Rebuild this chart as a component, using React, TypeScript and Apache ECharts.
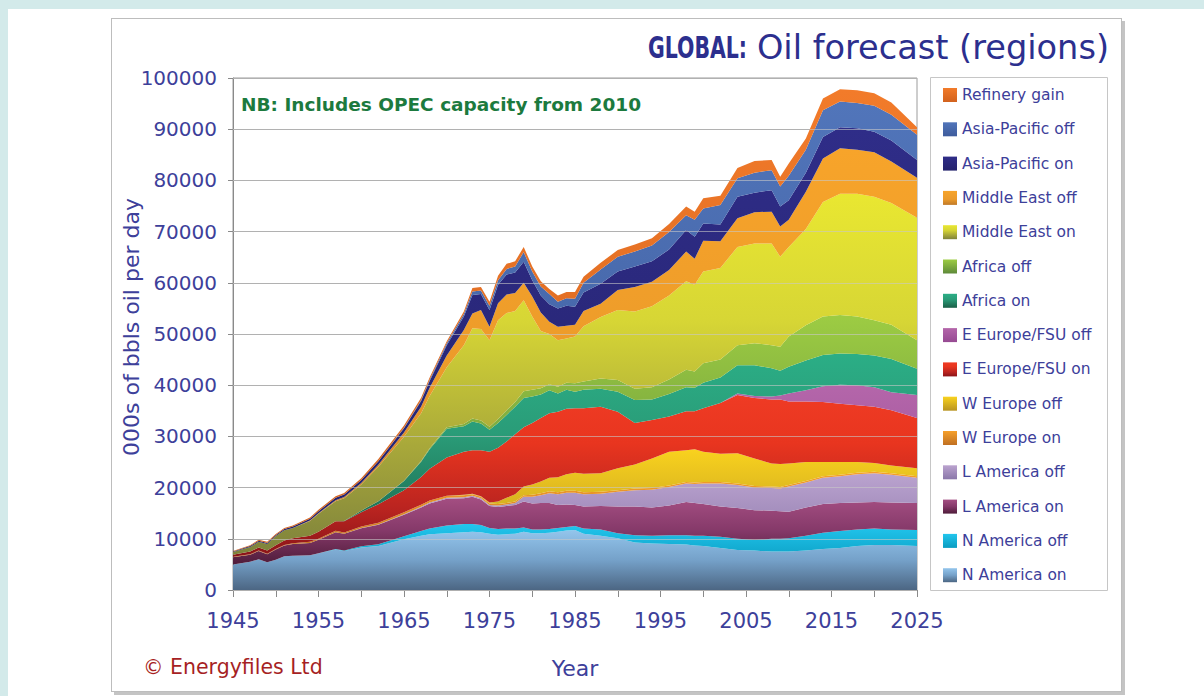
import React, { useEffect, useRef } from "react";
import * as echarts from "echarts";

// Years sampled from the chart (x values)
const years = [
  1945, 1947, 1948, 1949, 1950, 1951, 1952, 1954, 1955, 1957, 1958,
  1960, 1962, 1965, 1967, 1968, 1970, 1972, 1973, 1974, 1975,
  1976, 1977, 1978, 1979, 1980, 1981, 1982, 1983, 1984, 1985,
  1986, 1988, 1990, 1992, 1994, 1996, 1998, 1999, 2000, 2002,
  2004, 2006, 2008, 2009, 2010, 2012, 2014, 2016, 2018, 2020, 2022, 2025,
];

// Series values, 000s of bbls oil per day
const nAmericaOn = [
  5000, 5500, 6000, 5400, 5900, 6600, 6700, 6800, 7200, 7900, 7600,
  8300, 8600, 9900, 10600, 10900, 11100, 11300, 11400, 11300, 11000,
  10800, 10900, 11000, 11400, 11100, 11100, 11200, 11400, 11600, 11700,
  11000, 10600, 10100, 9300, 9100, 9000, 8900, 8700, 8600, 8200,
  7800, 7700, 7500, 7500, 7500, 7700, 8000, 8200, 8600, 8800, 8800, 8600,
];
const nAmericaOff = [
  0, 0, 0, 0, 0, 0, 0, 0, 0, 100, 100,
  250, 350, 600, 900, 1100, 1500, 1600, 1500, 1400, 1100,
  1100, 1100, 1000, 800, 700, 700, 700, 700, 700, 800,
  1000, 1200, 1000, 1400, 1500, 1700, 1800, 1900, 2000, 2200,
  2200, 2100, 2500, 2500, 2600, 2900, 3200, 3300, 3200, 3200, 3000, 3100,
];
const lAmericaOn = [
  1400, 1400, 1600, 1600, 2000, 2100, 2300, 2400, 2600, 3300, 3300,
  3500, 3800, 4200, 4600, 4900, 5200, 5000, 5300, 5000, 4300,
  4300, 4400, 4600, 5100, 5100, 5200, 5100, 4500, 4400, 4100,
  4300, 4600, 5200, 5600, 5500, 5800, 6500, 6400, 6200, 5900,
  6000, 5800, 5500, 5400, 5200, 5500, 5600, 5500, 5300, 5200, 5300, 5300,
];
const lAmericaOff = [
  0, 0, 0, 0, 0, 0, 0, 0, 0, 0, 0,
  50, 50, 100, 150, 200, 200, 200, 200, 200, 200,
  300, 300, 400, 900, 1300, 1500, 1900, 2100, 2300, 2400,
  2400, 2400, 2900, 3200, 3500, 3600, 3600, 3700, 4000, 4500,
  4500, 4400, 4400, 4400, 4900, 4900, 5100, 5200, 5500, 5600, 5400, 4900,
];
const wEuropeOn = [
  100, 100, 100, 100, 100, 100, 150, 200, 200, 250, 250,
  300, 350, 400, 400, 400, 400, 400, 300, 300, 300,
  300, 300, 300, 300, 400, 400, 400, 400, 400, 400,
  400, 400, 300, 300, 300, 300, 300, 300, 300, 300,
  300, 300, 300, 300, 300, 300, 300, 300, 300, 300, 300, 300,
];
const wEuropeOff = [
  0, 0, 0, 0, 0, 0, 0, 0, 0, 0, 0,
  0, 0, 0, 0, 0, 0, 100, 100, 100, 200,
  500, 1000, 1400, 1700, 2000, 2300, 2600, 2900, 3200, 3500,
  3600, 3600, 4300, 4700, 5800, 6600, 6200, 6500, 5900, 5500,
  5900, 5400, 4500, 4500, 4200, 3700, 2800, 2500, 2100, 1700, 1500, 1600,
];
const eEuropeOn = [
  400, 500, 600, 600, 750, 850, 950, 1200, 1400, 1900, 2200,
  2800, 3600, 4300, 5400, 6200, 7500, 8400, 8500, 9000, 9900,
  10500, 11000, 11700, 11600, 12000, 12400, 12600, 12800, 12800, 12600,
  12800, 13000, 11000, 8100, 7500, 6900, 7600, 7400, 8500, 9900,
  11400, 11800, 12500, 12600, 12100, 11800, 11700, 11400, 11100, 11000, 10800, 9800,
];
const eEuropeOff = [
  0, 0, 0, 0, 0, 0, 0, 0, 0, 0, 0,
  0, 0, 0, 0, 0, 0, 0, 0, 0, 0,
  0, 0, 0, 0, 0, 0, 0, 0, 0, 0,
  0, 0, 0, 0, 0, 0, 0, 0, 0, 0,
  300, 400, 600, 800, 1600, 2200, 3100, 3700, 3900, 3800, 3500, 4500,
];
const africaOn = [
  0, 0, 0, 0, 0, 0, 0, 0, 0, 0, 50,
  300, 600, 1800, 3000, 3800, 5600, 5000, 5600, 5200, 4300,
  4800, 5200, 5400, 5700, 5200, 4600, 4500, 3600, 3700, 3200,
  3600, 3500, 3900, 4500, 4000, 4400, 4700, 4600, 5000, 5000,
  5500, 6000, 5500, 4800, 5200, 5800, 6100, 6100, 6100, 6200, 6500, 5100,
];
const africaOff = [
  0, 0, 0, 0, 0, 0, 0, 0, 0, 0, 0,
  0, 0, 50, 150, 200, 300, 400, 600, 600, 600,
  800, 900, 900, 1300, 1300, 1200, 1200, 1300, 1400, 1700,
  1600, 2000, 2300, 2200, 2400, 2800, 3400, 3200, 3800, 3500,
  3900, 4300, 4500, 4700, 5900, 6900, 7500, 7500, 7300, 6900, 6700, 5600,
];
const middleEastOn = [
  500, 900, 1100, 1300, 1800, 2000, 2000, 2900, 3500, 3900, 4400,
  5100, 6700, 8600, 9300, 10200, 11700, 15400, 17600, 17900, 16900,
  19300, 19000, 17800, 17800, 14300, 11200, 9800, 9100, 8600, 9100,
  10800, 12000, 13700, 15100, 15800, 16400, 17300, 16900, 17900, 17900,
  19200, 19500, 19900, 17600, 17500, 18800, 22400, 23700, 24000, 24100, 23800, 23900,
];
const middleEastOff = [
  0, 0, 0, 0, 0, 0, 0, 50, 100, 200, 250,
  300, 400, 800, 1300, 1600, 2300, 3000, 2900, 3700, 2600,
  3300, 3600, 3500, 3400, 3900, 3600, 2400, 2600, 2500, 2300,
  3000, 2600, 3900, 4800, 4800, 5000, 5800, 5100, 6000, 5200,
  5600, 6100, 6200, 5900, 5300, 7300, 8500, 8900, 8600, 8700, 8100, 7800,
];
const asiaPacificOn = [
  100, 200, 200, 200, 200, 250, 300, 350, 400, 450, 500,
  600, 700, 850, 1100, 1300, 2000, 2600, 3600, 3100, 3300,
  3600, 3900, 4000, 4100, 3200, 3300, 3400, 3600, 3900, 3500,
  3600, 3900, 3600, 4000, 4000, 4000, 4200, 4300, 3400, 3300,
  4200, 3800, 4200, 3900, 3800, 3700, 4200, 4100, 4200, 4000, 4100, 3500,
];
const asiaPacificOff = [
  0, 0, 0, 0, 0, 0, 0, 0, 0, 0, 0,
  0, 20, 100, 150, 250, 400, 500, 700, 700, 800,
  900, 1100, 1200, 1900, 1700, 1800, 2000, 1300, 1500, 1600,
  1900, 2800, 2900, 2900, 3100, 3400, 2900, 3300, 2900, 3800,
  3600, 3900, 3900, 3900, 4800, 4500, 5200, 5000, 4900, 5100, 5000, 4900,
];
const refineryGain = [
  100, 150, 200, 200, 200, 200, 200, 250, 250, 300, 300,
  350, 400, 450, 500, 450, 400, 500, 700, 700, 800,
  900, 1000, 1000, 1000, 1000, 1000, 1000, 1200, 1200, 1300,
  1200, 1300, 1300, 1400, 1400, 1600, 1700, 1600, 2000, 1800,
  2000, 2300, 2000, 1900, 2400, 2200, 2300, 2400, 2500, 2400, 2400, 1500,
];

const seriesNames = [
  "N America on", "N America off", "L America on", "L America off",
  "W Europe on", "W Europe off", "E Europe/FSU on", "E Europe/FSU off",
  "Africa on", "Africa off", "Middle East on", "Middle East off",
  "Asia-Pacific on", "Asia-Pacific off", "Refinery gain",
];
const seriesValues = [
  nAmericaOn, nAmericaOff, lAmericaOn, lAmericaOff, wEuropeOn, wEuropeOff,
  eEuropeOn, eEuropeOff, africaOn, africaOff, middleEastOn, middleEastOff,
  asiaPacificOn, asiaPacificOff, refineryGain,
];
// gradient stops top -> bottom
const seriesStops: [number, string][][] = [
  [[0, "#93c5ec"], [0.5, "#75a1c9"], [1, "#4c6683"]],
  [[0, "#22c6ee"], [1, "#0a9cc0"]],
  [[0, "#a54f83"], [0.5, "#853969"], [1, "#4f1c3a"]],
  [[0, "#bba3cf"], [1, "#8a77a9"]],
  [[0, "#f6a02a"], [1, "#c07022"]],
  [[0, "#f9d21e"], [1, "#b89422"]],
  [[0, "#ef3b24"], [0.3, "#e8351f"], [0.7, "#ba2420"], [1, "#8a1418"]],
  [[0, "#b466aa"], [1, "#964a92"]],
  [[0, "#2bae86"], [0.4, "#2a9c78"], [1, "#1a5e46"]],
  [[0, "#9dcc43"], [1, "#5e8a3a"]],
  [[0, "#e9e731"], [0.35, "#d7d635"], [0.7, "#a8a83a"], [1, "#7e823c"]],
  [[0, "#f7a42a"], [0.6, "#eb9a2a"], [1, "#c07a28"]],
  [[0, "#2f2d88"], [1, "#24226c"]],
  [[0, "#5175ba"], [1, "#3e5c9c"]],
  [[0, "#f27b2a"], [1, "#d2621e"]],
];

const BLUE = "#3d409a";
const FONT = "DejaVu Sans";

export default function App() {
  const ref = useRef<HTMLDivElement>(null);

  useEffect(() => {
    if (!ref.current) return;
    const chart = echarts.init(ref.current, undefined, { renderer: "svg" });

    const series = seriesNames.map((name, i) => {
      const grad = new echarts.graphic.LinearGradient(
        0, 0, 0, 1,
        seriesStops[i].map(([offset, color]) => ({ offset, color }))
      );
      return {
        name,
        type: "line",
        stack: "total",
        symbol: "none",
        showSymbol: false,
        smooth: false,
        lineStyle: { width: 0 },
        itemStyle: { color: grad },
        areaStyle: { color: grad, opacity: 1 },
        emphasis: { disabled: true },
        // value first so that the y dimension is the stacked one
        encode: { x: 1, y: 0 },
        data: years.map((y, j) => [seriesValues[i][j], y]),
      };
    });

    chart.setOption({
      animation: false,
      grid: {
        left: 233, right: 287, top: 78, bottom: 106,
        show: true, borderColor: "#9c9c9c", borderWidth: 1,
        backgroundColor: "rgba(0,0,0,0)",
      },
      legend: {
        orient: "vertical",
        left: 943,
        top: 87,
        padding: 0,
        itemWidth: 14,
        itemHeight: 14,
        itemGap: 18.3,
        icon: "rect",
        selectedMode: false,
        data: seriesNames.slice().reverse(),
        textStyle: { color: BLUE, fontSize: 15.5, fontFamily: FONT, lineHeight: 14 },
      },
      xAxis: {
        type: "value",
        min: 1945,
        max: 2025,
        interval: 5,
        axisLine: { lineStyle: { color: "#8a8a8a" } },
        axisTick: { length: 7, lineStyle: { color: "#8a8a8a" } },
        splitLine: { show: false },
        axisLabel: {
          formatter: (v: number) => ((v - 1945) % 10 === 0 ? String(v) : ""),
          color: BLUE, fontSize: 21, fontFamily: FONT, margin: 20,
          showMinLabel: true, showMaxLabel: true,
        },
        name: "Year",
        nameLocation: "middle",
        nameGap: 67,
        nameTextStyle: { color: BLUE, fontSize: 22, fontFamily: FONT },
      },
      yAxis: [
        {
          type: "value",
          min: 0,
          max: 100000,
          interval: 10000,
          axisLine: { show: true, lineStyle: { color: "#8a8a8a" } },
          axisTick: { show: true, length: 5, lineStyle: { color: "#8a8a8a" } },
          splitLine: { show: true, lineStyle: { color: "#8e8e8e", width: 1 } },
          axisLabel: {
            formatter: (v: number) => String(v),
            color: BLUE, fontSize: 20, fontFamily: FONT, margin: 16,
          },
        },
        {
          // faint gridlines showing through the areas, as in the original
          type: "value",
          position: "left",
          min: 0,
          max: 100000,
          interval: 10000,
          z: 10,
          axisLine: { show: false },
          axisTick: { show: false },
          axisLabel: { show: false },
          splitLine: { show: true, lineStyle: { color: "rgba(200,200,200,0.6)", width: 1 } },
        },
      ],
      graphic: [
        {
          type: "rect",
          z: 0,
          shape: { x: 930.5, y: 77.5, width: 177, height: 513 },
          style: { fill: "#ffffff", stroke: "#c6c6c6", lineWidth: 1 },
        },
        {
          type: "text",
          x: 747,
          y: 47,
          scaleX: 0.66,
          style: {
            text: "GLOBAL:",
            align: "right",
            verticalAlign: "middle",
            fontFamily: FONT, fontWeight: "bold", fontSize: 31, fill: "#2c2f8e",
          },
        },
        {
          type: "text",
          x: 1109,
          y: 47,
          style: {
            text: "Oil forecast (regions)",
            align: "right",
            verticalAlign: "middle",
            fontFamily: FONT, fontSize: 33.6, fill: "#2c2f8e",
          },
        },
        {
          type: "text",
          x: 131,
          y: 327,
          rotation: Math.PI / 2,
          style: {
            text: "000s of bbls oil per day",
            align: "center",
            verticalAlign: "middle",
            fontFamily: FONT, fontSize: 22, fill: BLUE,
          },
        },
        {
          type: "text",
          x: 241,
          y: 104,
          style: {
            text: "NB: Includes OPEC capacity from 2010",
            fontFamily: FONT, fontWeight: "bold", fontSize: 18.5,
            fill: "#1c7a3e", verticalAlign: "middle",
          },
        },
        {
          type: "text",
          x: 143,
          y: 667,
          style: {
            text: "© Energyfiles Ltd",
            fontFamily: FONT, fontSize: 20.5, fill: "#a61f24", verticalAlign: "middle",
          },
        },
      ],
      series,
    });

    return () => chart.dispose();
  }, []);

  return (
    <div style={{ position: "absolute", left: 0, top: 0, width: 1204, height: 696, background: "#d3eaea", overflow: "hidden" }}>
      <div style={{ position: "absolute", left: 8, top: 9, width: 1196, height: 687, background: "#ffffff" }} />
      <div
        style={{
          position: "absolute", left: 111, top: 18, width: 1009, height: 672,
          border: "1px solid #bdbdbd", boxShadow: "3px 3px 0 #c4c4c4", background: "#ffffff",
        }}
      />
      <div ref={ref} style={{ position: "absolute", left: 0, top: 0, width: 1204, height: 696 }} />
    </div>
  );
}
